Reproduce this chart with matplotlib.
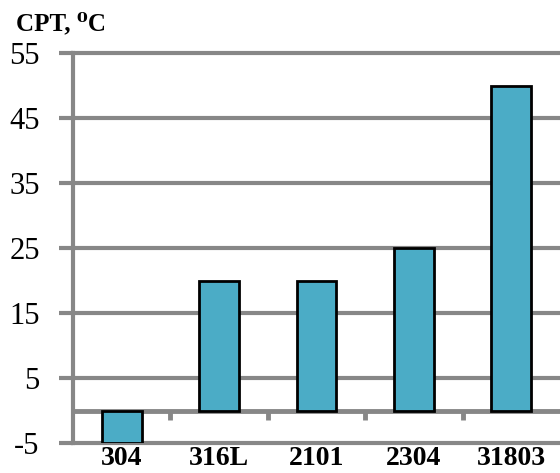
import numpy as np
import matplotlib.pyplot as plt

# CPT values per grade
grades = ["304", "316L", "2101", "2304", "31803"]
cpt = [-5, 20, 20, 25, 50]
y_ticks = [-5, 5, 15, 25, 35, 45, 55]

grid_col = "#878787"
bar_col = "#4BACC6"
serif = ["Liberation Serif", "DejaVu Serif"]

fig = plt.figure(figsize=(5.6, 4.73), dpi=100)
ax = fig.add_axes([73 / 560, 1 - 443 / 473, 1 - 73 / 560, (443 - 53) / 473])

x = np.arange(len(grades))
ax.bar(x, cpt, width=0.41, color=bar_col, edgecolor="black", linewidth=2, zorder=3)

ax.set_xlim(-0.5, len(grades) - 0.5)
ax.set_ylim(y_ticks[0], y_ticks[-1])
ax.set_yticks(y_ticks)
ax.set_yticklabels([str(v) for v in y_ticks], fontfamily=serif, fontsize=22)
ax.tick_params(axis="y", length=10, width=3, color=grid_col, pad=14)

ax.set_xticks(x)
ax.set_xticklabels(grades, fontfamily=serif, fontsize=20, fontweight="bold")
ax.tick_params(axis="x", length=0, pad=2)

# horizontal grid lines
for v in y_ticks:
    ax.axhline(v, color=grid_col, lw=3, zorder=1, clip_on=False)
# zero axis with category dividers
ax.plot([-0.5, len(grades) - 0.5], [0, 0], color=grid_col, lw=3.5, zorder=2,
        solid_capstyle="butt")
ax.vlines(x[:-1] + 0.5, -1.4, 0, color=grid_col, lw=3.5, zorder=2)

for s in ["top", "right", "bottom"]:
    ax.spines[s].set_visible(False)
ax.spines["left"].set_color(grid_col)
ax.spines["left"].set_linewidth(3)

fig.text(16 / 560, 1 - 12 / 473, "CPT, \u2070C", fontfamily=serif,
         fontsize=18, fontweight="bold", va="top", ha="left")

fig.savefig("out.png", dpi=100)
